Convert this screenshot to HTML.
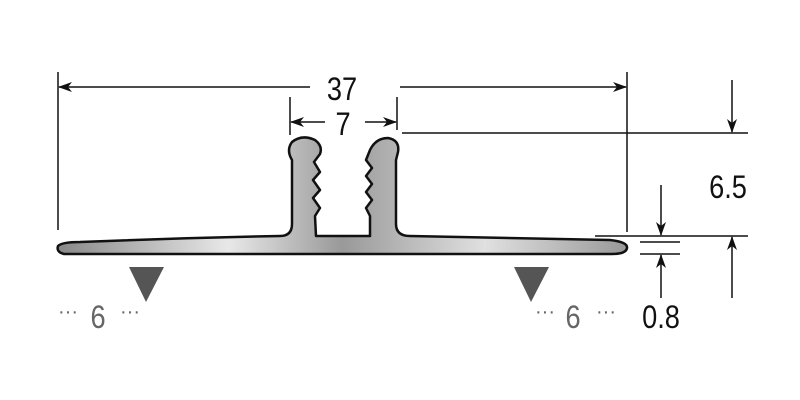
<!DOCTYPE html>
<html><head><meta charset="utf-8"><style>
html,body{margin:0;padding:0;background:#fff;}
svg{display:block;}
text{font-family:"Liberation Sans",sans-serif;}
</style></head><body>
<svg width="800" height="400" viewBox="0 0 800 400" xmlns="http://www.w3.org/2000/svg">
<defs>
<linearGradient id="g" x1="0" y1="0" x2="1" y2="0">
<stop offset="0" stop-color="#888"/>
<stop offset="0.3" stop-color="#e8e8e8"/>
<stop offset="0.5" stop-color="#999"/>
<stop offset="0.75" stop-color="#e0e0e0"/>
<stop offset="1" stop-color="#999"/>
</linearGradient>
<marker id="a" markerWidth="14" markerHeight="10" refX="13" refY="5" orient="auto" markerUnits="userSpaceOnUse">
<path d="M0,0 L14,5 L0,10 L4,5 Z" fill="#111"/>
</marker>
</defs>
<path d="M280,236 Q292,236 292,224 L292,160 Q286,150 292,142 Q302,134 315,140 Q323,146 320,154 L314,162 L320,172 L313,180 L320,190 L313,198 L320,208 L315,216 L316,236 L370,236 L370,216 L366,208 L372,200 L366,192 L372,184 L366,176 L372,168 L366,160 L370,150 Q376,138 388,138 Q400,140 398,152 L396,160 L396,224 Q396,236 410,236 Q520,238 610,240 Q628,242 627,248 Q626,254 612,254 L64,254 Q56,252 58,246 Q62,242 80,242 Q180,238 280,236 Z" fill="url(#g)" stroke="#111" stroke-width="2.5" stroke-linejoin="round"/>
<g stroke="#111" stroke-width="1.5" fill="none">
<line x1="58" y1="72" x2="58" y2="230"/>
<line x1="627" y1="72" x2="627" y2="232"/>
<line x1="80" y1="87" x2="59" y2="87" marker-end="url(#a)"/>
<line x1="80" y1="87" x2="310" y2="87"/>
<line x1="400" y1="87" x2="626" y2="87" marker-end="url(#a)"/>
<line x1="290" y1="97" x2="290" y2="135"/>
<line x1="397" y1="97" x2="397" y2="130"/>
<line x1="325" y1="122" x2="291" y2="122" marker-end="url(#a)"/>
<line x1="365" y1="122" x2="396" y2="122" marker-end="url(#a)"/>
<line x1="402" y1="133" x2="748" y2="133"/>
<line x1="732" y1="80" x2="732" y2="132" marker-end="url(#a)"/>
<line x1="732" y1="298" x2="732" y2="237" marker-end="url(#a)"/>
<line x1="595" y1="236" x2="748" y2="236"/>
<line x1="640" y1="242" x2="680" y2="242"/>
<line x1="640" y1="254" x2="680" y2="254"/>
<line x1="661" y1="185" x2="661" y2="235" marker-end="url(#a)"/>
<line x1="661" y1="298" x2="661" y2="255" marker-end="url(#a)"/>
</g>
<g fill="#111" font-size="32">
<text transform="translate(342 100) scale(0.85 1)" text-anchor="middle">37</text>
<text transform="translate(343 135) scale(0.85 1)" text-anchor="middle">7</text>
<text transform="translate(728 198) scale(0.85 1)" text-anchor="middle">6.5</text>
<text transform="translate(661 328) scale(0.85 1)" text-anchor="middle">0.8</text>
</g>
<polygon points="129,267 164,267 146,302" fill="#555"/>
<polygon points="514,267 549,267 531,302" fill="#555"/>
<g fill="#666" font-size="32">
<text transform="translate(98 328) scale(0.85 1)" text-anchor="middle">6</text>
<text transform="translate(573 328) scale(0.85 1)" text-anchor="middle">6</text>
</g>
<g fill="#666" font-size="20" text-anchor="middle">
<text x="68" y="318">···</text>
<text x="130" y="318">···</text>
<text x="545" y="318">···</text>
<text x="606" y="318">···</text>
</g>
</svg>
</body></html>
